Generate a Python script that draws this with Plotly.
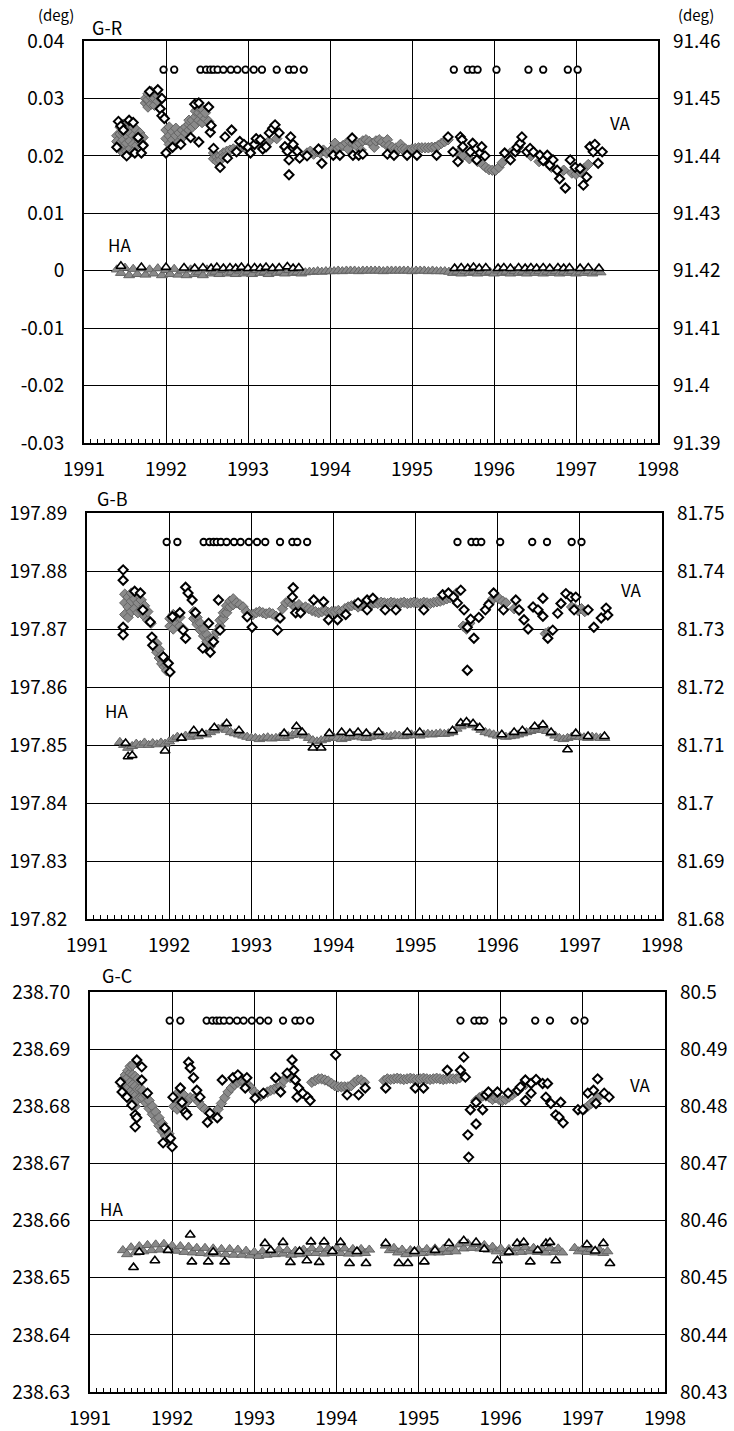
import plotly.graph_objects as go

# ---------------------------------------------------------------- data ----
# Event dates (open circles along the top of every panel)
EVENT_DATES = [1991.97, 1992.10, 1992.42, 1992.49, 1992.54, 1992.58, 1992.63, 1992.70,
               1992.79, 1992.87, 1992.97, 1993.07, 1993.17, 1993.35, 1993.50, 1993.56,
               1993.68, 1995.51, 1995.68, 1995.74, 1995.80, 1996.03, 1996.42, 1996.60,
               1996.90, 1997.02]
EVENT_LEVEL = {"G-R": 91.455, "G-B": 81.745, "G-C": 80.495}

# Sampling dates of the dense HA record (gray triangles)
HA_DATES = [1991.40, 1991.45, 1991.50, 1991.55, 1991.60, 1991.65, 1991.70, 1991.75, 1991.80, 1991.85, 1991.90, 1991.95,
            1992.00, 1992.05, 1992.10, 1992.15, 1992.20, 1992.25, 1992.30, 1992.35, 1992.40, 1992.45,
            1992.50, 1992.55, 1992.60, 1992.65, 1992.70, 1992.75, 1992.80, 1992.85, 1992.90, 1992.95,
            1993.00, 1993.05, 1993.10, 1993.15, 1993.20, 1993.25, 1993.30, 1993.35, 1993.40, 1993.45,
            1993.50, 1993.55, 1993.60, 1993.65, 1993.70, 1993.75, 1993.80, 1993.85, 1993.90, 1993.95,
            1994.00, 1994.05, 1994.10, 1994.15, 1994.20, 1994.25, 1994.30, 1994.35, 1994.40, 1994.45,
            1994.50, 1994.55, 1994.60, 1994.65, 1994.70, 1994.75, 1994.80, 1994.85, 1994.90, 1994.95,
            1995.00, 1995.05, 1995.10, 1995.15, 1995.20, 1995.25, 1995.30, 1995.35, 1995.40, 1995.45,
            1995.50, 1995.55, 1995.60, 1995.65, 1995.70, 1995.75, 1995.80, 1995.85, 1995.90, 1995.95,
            1996.00, 1996.05, 1996.10, 1996.15, 1996.20, 1996.25, 1996.30, 1996.35, 1996.40, 1996.45,
            1996.50, 1996.55, 1996.60, 1996.65, 1996.70, 1996.75, 1996.80, 1996.85, 1996.90, 1996.95,
            1997.00, 1997.05, 1997.10, 1997.15, 1997.20, 1997.25, 1997.30]

# ---- G-R ----
GR_HA_GRAY = [0.0002, -0.0004, 0.0005, -0.0008, 0.0003, -0.0006, 0.0004, -0.0007, 0.0002, -0.0005, 0.0004, -0.0008,
              0.0001, -0.0006, 0.0003, -0.0007, 0.0000, -0.0008, 0.0002,
              -0.0006, -0.0003, -0.0008, 0.0002, -0.0005, -0.0002, -0.0006, 0.0001, -0.0005, -0.0003, -0.0006,
              0.0000, -0.0005, -0.0002, -0.0006, 0.0001, -0.0004, -0.0002, -0.0006, 0.0000, -0.0004, -0.0002,
              -0.0005, 0.0001, -0.0004, -0.0003, -0.0005,
              -0.0003, -0.0002, -0.0002, -0.0001, -0.0002, -0.0001, -0.0001, -0.0001, 0.0000, -0.0001, 0.0000,
              0.0000, 0.0000, -0.0001, 0.0000, 0.0000, 0.0000, 0.0000, 0.0000, -0.0001, 0.0000, 0.0000, 0.0000,
              0.0000, 0.0000, 0.0000, -0.0001, 0.0000, 0.0000, 0.0000, -0.0001, 0.0000, -0.0001, -0.0001, -0.0001,
              -0.0002,
              -0.0004, -0.0002, -0.0005, -0.0001, -0.0004, -0.0002, -0.0005, -0.0001, -0.0004, -0.0002, -0.0005,
              0.0000, -0.0004, -0.0002, -0.0005, -0.0001, -0.0004, -0.0002, -0.0005, 0.0000, -0.0004, -0.0001,
              -0.0005, -0.0002, -0.0004, -0.0001, -0.0005, -0.0002, -0.0004, -0.0001, -0.0005, -0.0003, -0.0004,
              -0.0001, -0.0005, -0.0002, -0.0003]
GR_HA_OPEN = {1991.45: [0.0008], 1991.70: [0.0006], 1992.00: [0.0006], 1992.22: [0.0005], 1992.35: [0.0004],
              1992.45: [0.0005], 1992.55: [0.0004], 1992.62: [0.0006], 1992.70: [0.0004], 1992.78: [0.0005],
              1992.85: [0.0004], 1992.92: [0.0006], 1993.00: [0.0004], 1993.08: [0.0005], 1993.15: [0.0004],
              1993.22: [0.0006], 1993.30: [0.0004], 1993.38: [0.0005], 1993.48: [0.0007], 1993.55: [0.0004],
              1993.62: [0.0005], 1995.52: [0.0004], 1995.60: [0.0005], 1995.68: [0.0004], 1995.75: [0.0006],
              1995.82: [0.0004], 1995.90: [0.0005], 1996.05: [0.0004], 1996.12: [0.0005], 1996.20: [0.0004],
              1996.30: [0.0005], 1996.38: [0.0004], 1996.45: [0.0005], 1996.52: [0.0004], 1996.60: [0.0005],
              1996.68: [0.0004], 1996.78: [0.0005], 1996.85: [0.0004], 1996.92: [0.0005], 1997.05: [0.0004],
              1997.15: [0.0005], 1997.28: [0.0004]}
GR_VA_GRAY = {
    1991.40: [91.4435, 91.4425], 1991.44: [91.4450, 91.4438, 91.4422, 91.4412],
    1991.48: [91.4455, 91.4440, 91.4428, 91.4415, 91.4405], 1991.52: [91.4452, 91.4436, 91.4422, 91.4408],
    1991.56: [91.4455, 91.4440, 91.4426, 91.4412], 1991.60: [91.4450, 91.4435, 91.4420, 91.4407],
    1991.64: [91.4445, 91.4432, 91.4418], 1991.68: [91.4440, 91.4425], 1991.72: [91.4432, 91.4420],
    1991.75: [91.4492, 91.4500], 1991.78: [91.4485, 91.4498, 91.4508], 1991.82: [91.4490, 91.4502, 91.4512],
    1991.86: [91.4488, 91.4500, 91.4510], 1991.90: [91.4495, 91.4505], 1991.94: [91.4500],
    1992.00: [91.4430, 91.4445], 1992.04: [91.4420, 91.4435, 91.4450], 1992.08: [91.4415, 91.4428, 91.4442],
    1992.12: [91.4420, 91.4435, 91.4448], 1992.16: [91.4425, 91.4440], 1992.20: [91.4432, 91.4445],
    1992.24: [91.4440, 91.4450], 1992.28: [91.4445, 91.4455, 91.4462], 1992.32: [91.4450, 91.4462],
    1992.36: [91.4455, 91.4468, 91.4478], 1992.40: [91.4462, 91.4475, 91.4485],
    1992.44: [91.4458, 91.4470, 91.4482], 1992.48: [91.4465, 91.4475], 1992.52: [91.4460],
    1992.58: [91.4405, 91.4395], 1992.62: [91.4398, 91.4390], 1992.66: [91.4400, 91.4392],
    1992.70: [91.4405, 91.4398], 1992.74: [91.4408, 91.4400], 1992.78: [91.4410], 1992.82: [91.4412],
    1992.86: [91.4410], 1992.92: [91.4415], 1992.98: [91.4412], 1993.05: [91.4415], 1993.15: [91.4418],
    1993.25: [91.4425], 1993.35: [91.4430], 1993.45: [91.4415],
    1993.72: [91.4405], 1993.76: [91.4408], 1993.80: [91.4403], 1993.84: [91.4407], 1993.88: [91.4405],
    1993.92: [91.4410], 1993.96: [91.4405], 1994.00: [91.4408], 1994.04: [91.4412], 1994.06: [91.4422],
    1994.08: [91.4410], 1994.12: [91.4415], 1994.16: [91.4418], 1994.20: [91.4422], 1994.22: [91.4412],
    1994.24: [91.4425], 1994.28: [91.4422], 1994.32: [91.4418], 1994.36: [91.4422], 1994.38: [91.4410],
    1994.40: [91.4426], 1994.44: [91.4428], 1994.48: [91.4425], 1994.52: [91.4422], 1994.54: [91.4415],
    1994.56: [91.4426], 1994.60: [91.4428], 1994.64: [91.4424], 1994.68: [91.4420], 1994.70: [91.4428],
    1994.72: [91.4418], 1994.76: [91.4415], 1994.80: [91.4413], 1994.84: [91.4412], 1994.86: [91.4420],
    1994.88: [91.4412], 1994.92: [91.4412], 1994.96: [91.4410], 1995.00: [91.4412], 1995.04: [91.4413],
    1995.08: [91.4414], 1995.12: [91.4414], 1995.16: [91.4414], 1995.20: [91.4414], 1995.24: [91.4415],
    1995.28: [91.4415], 1995.32: [91.4418], 1995.36: [91.4422], 1995.40: [91.4425], 1995.44: [91.4428],
    1995.56: [91.4405], 1995.62: [91.4400], 1995.70: [91.4395], 1995.80: [91.4390], 1995.86: [91.4385],
    1995.90: [91.4380], 1995.94: [91.4376], 1995.98: [91.4375], 1996.02: [91.4375], 1996.06: [91.4380],
    1996.10: [91.4388], 1996.20: [91.4405], 1996.30: [91.4415], 1996.45: [91.4400], 1996.55: [91.4390],
    1996.70: [91.4380], 1996.85: [91.4375], 1996.95: [91.4370], 1997.00: [91.4368], 1997.05: [91.4372],
    1997.10: [91.4378], 1997.15: [91.4385]}
GR_VA_OPEN = {
    1991.40: [91.4415], 1991.42: [91.4460], 1991.45: [91.4452], 1991.48: [91.4445], 1991.52: [91.4400],
    1991.55: [91.4462], 1991.60: [91.4458], 1991.62: [91.4405], 1991.66: [91.4432], 1991.70: [91.4405],
    1991.72: [91.4418], 1991.80: [91.4512], 1991.90: [91.4515], 1991.93: [91.4482], 1991.95: [91.4500, 91.4470],
    1991.98: [91.4465], 1992.00: [91.4405], 1992.08: [91.4415], 1992.18: [91.4420], 1992.30: [91.4432],
    1992.35: [91.4490], 1992.40: [91.4492, 91.4424], 1992.52: [91.4485], 1992.54: [91.4441], 1992.55: [91.4453],
    1992.58: [91.4413], 1992.66: [91.4380], 1992.72: [91.4433], 1992.75: [91.4396], 1992.80: [91.4445],
    1992.86: [91.4407], 1992.90: [91.4425], 1992.95: [91.4420], 1993.00: [91.4415], 1993.03: [91.4405],
    1993.08: [91.4420], 1993.10: [91.4430], 1993.15: [91.4428], 1993.18: [91.4412], 1993.22: [91.4416],
    1993.26: [91.4440], 1993.30: [91.4448], 1993.33: [91.4454], 1993.38: [91.4440], 1993.45: [91.4416],
    1993.48: [91.4408], 1993.50: [91.4393, 91.4367], 1993.52: [91.4433], 1993.55: [91.4420], 1993.60: [91.4408],
    1993.63: [91.4396], 1993.72: [91.4400], 1993.86: [91.4412], 1993.90: [91.4387],
    1994.04: [91.4401], 1994.12: [91.4401], 1994.27: [91.4431], 1994.28: [91.4401], 1994.35: [91.4401],
    1994.40: [91.4403], 1994.70: [91.4403], 1994.78: [91.4401], 1994.94: [91.4401], 1995.06: [91.4401],
    1995.30: [91.4401], 1995.44: [91.4433], 1995.50: [91.4407], 1995.56: [91.4390], 1995.59: [91.4433],
    1995.61: [91.4428], 1995.62: [91.4416], 1995.71: [91.4407], 1995.74: [91.4422], 1995.79: [91.4393],
    1995.83: [91.4405], 1995.85: [91.4416], 1995.89: [91.4400], 1996.13: [91.4405], 1996.20: [91.4393],
    1996.26: [91.4407], 1996.28: [91.4415], 1996.32: [91.4422], 1996.34: [91.4433], 1996.40: [91.4407],
    1996.44: [91.4413], 1996.48: [91.4407], 1996.56: [91.4401], 1996.60: [91.4392], 1996.65: [91.4401],
    1996.68: [91.4384], 1996.72: [91.4393], 1996.77: [91.4375], 1996.80: [91.4360], 1996.87: [91.4344],
    1996.93: [91.4393], 1996.99: [91.4380], 1997.05: [91.4378], 1997.09: [91.4349], 1997.13: [91.4363],
    1997.17: [91.4416], 1997.21: [91.4407], 1997.23: [91.4420], 1997.27: [91.4387], 1997.32: [91.4407]}

# ---- G-B ----
GB_HA_GRAY = [197.8505, 197.8500, 197.8495, 197.8498, 197.8502, 197.8500, 197.8504, 197.8500, 197.8503, 197.8501,
              197.8504, 197.8502, 197.8506,
              197.8510, 197.8514, 197.8512, 197.8516, 197.8514, 197.8518, 197.8515, 197.8520, 197.8518, 197.8522,
              197.8525, 197.8528, 197.8530, 197.8526, 197.8522, 197.8520, 197.8518, 197.8516, 197.8514, 197.8512,
              197.8512, 197.8510, 197.8512, 197.8513, 197.8511, 197.8512, 197.8514, 197.8512, 197.8515, 197.8517,
              197.8520, 197.8518, 197.8516, 197.8512, 197.8508, 197.8506, 197.8508, 197.8510, 197.8512, 197.8514,
              197.8512, 197.8510, 197.8512, 197.8514, 197.8516, 197.8515, 197.8513, 197.8512, 197.8514, 197.8516,
              197.8515, 197.8516, 197.8514, 197.8515, 197.8517, 197.8516, 197.8515, 197.8516, 197.8518, 197.8517,
              197.8516, 197.8518, 197.8519, 197.8518, 197.8519, 197.8520, 197.8519, 197.8520, 197.8522,
              197.8528, 197.8532, 197.8535, 197.8536, 197.8534, 197.8530, 197.8526, 197.8522, 197.8520, 197.8518,
              197.8516,
              197.8515, 197.8514, 197.8515, 197.8516, 197.8518, 197.8520, 197.8522, 197.8524, 197.8526, 197.8528,
              197.8526, 197.8524, 197.8520, 197.8516, 197.8512, 197.8510, 197.8512, 197.8514, 197.8515, 197.8514,
              197.8513, 197.8512, 197.8514, 197.8513, 197.8512, 197.8512]
GB_HA_OPEN = {1991.47: [197.8503], 1991.50: [197.8480], 1991.55: [197.8482], 1991.95: [197.8490],
              1992.15: [197.8512], 1992.30: [197.8525], 1992.40: [197.8520], 1992.55: [197.8530],
              1992.70: [197.8537], 1992.85: [197.8525], 1993.40: [197.8520], 1993.55: [197.8532],
              1993.62: [197.8522], 1993.75: [197.8495], 1993.85: [197.8495], 1993.95: [197.8520],
              1994.10: [197.8522], 1994.20: [197.8520], 1994.30: [197.8522], 1994.40: [197.8520],
              1994.55: [197.8522], 1994.90: [197.8522], 1995.05: [197.8522], 1995.45: [197.8525],
              1995.55: [197.8538], 1995.62: [197.8540], 1995.70: [197.8537], 1995.78: [197.8530],
              1996.05: [197.8518], 1996.20: [197.8522], 1996.30: [197.8525], 1996.45: [197.8532],
              1996.55: [197.8535], 1996.65: [197.8522], 1996.85: [197.8492], 1996.95: [197.8520],
              1997.10: [197.8515], 1997.30: [197.8515]}
GB_VA_GRAY = {
    1991.46: [81.7325, 81.7345, 81.7360], 1991.50: [81.7320, 81.7338, 81.7355], 1991.54: [81.7330, 81.7348, 81.7362],
    1991.58: [81.7335, 81.7352], 1991.62: [81.7328, 81.7345, 81.7360], 1991.66: [81.7332, 81.7350],
    1991.70: [81.7322, 81.7340], 1991.74: [81.7315, 81.7330], 1991.78: [81.7310],
    1991.85: [81.7275, 81.7260], 1991.88: [81.7265, 81.7250], 1991.91: [81.7255, 81.7240],
    1991.94: [81.7248, 81.7235], 1991.97: [81.7238, 81.7228],
    1992.01: [81.7305, 81.7318], 1992.05: [81.7300, 81.7315, 81.7325], 1992.09: [81.7310, 81.7322],
    1992.13: [81.7305, 81.7320], 1992.17: [81.7300],
    1992.30: [81.7330, 81.7318], 1992.34: [81.7320, 81.7308], 1992.38: [81.7310, 81.7298],
    1992.42: [81.7300, 81.7288], 1992.46: [81.7290, 81.7278], 1992.50: [81.7282, 81.7270], 1992.54: [81.7285],
    1992.58: [81.7295], 1992.62: [81.7305, 81.7315], 1992.66: [81.7318, 81.7328], 1992.70: [81.7328, 81.7340],
    1992.74: [81.7338, 81.7348], 1992.78: [81.7342, 81.7352], 1992.82: [81.7345], 1992.86: [81.7342],
    1992.90: [81.7338], 1992.94: [81.7330], 1992.98: [81.7325],
    1993.02: [81.7325], 1993.06: [81.7328], 1993.10: [81.7330], 1993.14: [81.7328], 1993.18: [81.7326],
    1993.22: [81.7328], 1993.26: [81.7326], 1993.30: [81.7322],
    1993.38: [81.7335], 1993.42: [81.7345], 1993.46: [81.7348], 1993.50: [81.7342], 1993.54: [81.7338],
    1993.58: [81.7342], 1993.62: [81.7335], 1993.66: [81.7338], 1993.70: [81.7335],
    1993.74: [81.7332], 1993.78: [81.7330], 1993.82: [81.7328], 1993.86: [81.7330], 1993.90: [81.7332],
    1993.94: [81.7328], 1993.98: [81.7330], 1994.02: [81.7330], 1994.06: [81.7332], 1994.10: [81.7330],
    1994.14: [81.7335], 1994.18: [81.7338], 1994.22: [81.7340], 1994.26: [81.7342], 1994.30: [81.7338],
    1994.34: [81.7340], 1994.38: [81.7342], 1994.42: [81.7345], 1994.46: [81.7342],
    1994.50: [81.7345], 1994.54: [81.7344], 1994.58: [81.7346], 1994.62: [81.7345], 1994.66: [81.7344],
    1994.70: [81.7346], 1994.74: [81.7345], 1994.78: [81.7344], 1994.82: [81.7345], 1994.86: [81.7346],
    1994.90: [81.7344], 1994.94: [81.7345], 1994.98: [81.7346], 1995.02: [81.7345], 1995.06: [81.7344],
    1995.10: [81.7346], 1995.14: [81.7345], 1995.18: [81.7344], 1995.22: [81.7346], 1995.26: [81.7347],
    1995.30: [81.7348], 1995.34: [81.7350], 1995.38: [81.7352], 1995.42: [81.7354], 1995.46: [81.7355],
    1995.50: [81.7362], 1995.58: [81.7305], 1995.62: [81.7300], 1995.66: [81.7310],
    1995.90: [81.7345], 1995.94: [81.7352], 1995.98: [81.7355], 1996.02: [81.7352], 1996.06: [81.7348],
    1996.10: [81.7345], 1996.20: [81.7335], 1996.26: [81.7332], 1996.58: [81.7292], 1996.62: [81.7295],
    1996.90: [81.7338], 1996.94: [81.7335], 1996.98: [81.7332], 1997.02: [81.7335], 1997.06: [81.7330]}
GB_VA_OPEN = {
    1991.44: [81.7402, 81.7384, 81.7303, 81.7290], 1991.58: [81.7365], 1991.65: [81.7362], 1991.68: [81.7333],
    1991.77: [81.7312], 1991.79: [81.7286], 1991.80: [81.7272], 1991.93: [81.7252], 1991.99: [81.7241],
    1992.01: [81.7226], 1992.04: [81.7321], 1992.13: [81.7328], 1992.17: [81.7298], 1992.20: [81.7284, 81.7372],
    1992.23: [81.7362], 1992.28: [81.7350], 1992.32: [81.7328], 1992.41: [81.7267], 1992.48: [81.7310],
    1992.50: [81.7260], 1992.54: [81.7278], 1992.60: [81.7350], 1992.62: [81.7298], 1992.95: [81.7321],
    1993.01: [81.7303], 1993.32: [81.7298], 1993.35: [81.7319], 1993.50: [81.7355], 1993.51: [81.7371],
    1993.54: [81.7328], 1993.60: [81.7328], 1993.76: [81.7350], 1993.88: [81.7347], 1993.94: [81.7316],
    1994.05: [81.7316], 1994.15: [81.7325], 1994.30: [81.7345], 1994.41: [81.7350, 81.7333], 1994.48: [81.7353],
    1994.63: [81.7333], 1994.76: [81.7333], 1995.10: [81.7333], 1995.33: [81.7359], 1995.40: [81.7362],
    1995.46: [81.7355], 1995.51: [81.7345], 1995.55: [81.7367], 1995.59: [81.7333], 1995.63: [81.7303, 81.7229],
    1995.67: [81.7317], 1995.71: [81.7284], 1995.77: [81.7320], 1995.85: [81.7333], 1995.89: [81.7342],
    1995.95: [81.7362], 1996.07: [81.7333], 1996.22: [81.7350], 1996.26: [81.7333], 1996.32: [81.7316],
    1996.37: [81.7300], 1996.43: [81.7338], 1996.49: [81.7333], 1996.55: [81.7353, 81.7322], 1996.61: [81.7284],
    1996.67: [81.7298], 1996.73: [81.7327], 1996.77: [81.7344], 1996.83: [81.7361], 1996.89: [81.7355],
    1996.93: [81.7333], 1996.95: [81.7355], 1997.10: [81.7333], 1997.17: [81.7303], 1997.26: [81.7319],
    1997.32: [81.7336], 1997.34: [81.7324]}

# ---- G-C ----
GC_HA_GRAY = [238.6548, 238.6541, 238.6553, 238.6544, 238.6555, 238.6546, 238.6557, 238.6548, 238.6558, 238.6549,
              238.6559, 238.6550,
              238.6556, 238.6547, 238.6555, 238.6545, 238.6554, 238.6544, 238.6552, 238.6543, 238.6552, 238.6542,
              238.6551, 238.6542, 238.6550, 238.6541, 238.6550, 238.6540, 238.6549, 238.6540, 238.6547, 238.6539,
              238.6545, 238.6538, 238.6546, 238.6540, 238.6548, 238.6541, 238.6549, 238.6542, 238.6548, 238.6540,
              238.6547, 238.6541, 238.6549, 238.6543, 238.6551, 238.6543, 238.6550, 238.6542, 238.6551, 238.6543,
              238.6552, 238.6543, 238.6551, 238.6542, 238.6550, 238.6542, 238.6550, 238.6543, 238.6549, None,
              None, None, 238.6556, 238.6548, 238.6552, 238.6544, 238.6549, 238.6541, 238.6548, 238.6542,
              238.6549, 238.6543, 238.6550, 238.6544, 238.6551, 238.6544, 238.6550, 238.6545, 238.6551, 238.6546,
              238.6558, 238.6551, 238.6560, 238.6552, 238.6559, 238.6551, 238.6557, 238.6549, 238.6554, 238.6546,
              238.6551, 238.6543, 238.6550, 238.6544, 238.6552, 238.6545, 238.6553, 238.6546, 238.6552, 238.6545,
              238.6551, 238.6544, 238.6552, 238.6545, 238.6551, 238.6544, None, None, 238.6552, 238.6546,
              238.6551, 238.6545, 238.6550, 238.6544, 238.6549, 238.6543, 238.6546]
GC_HA_OPEN = {1991.53: [238.6518], 1991.60: [238.6545], 1991.79: [238.6530], 1991.95: [238.6548],
              1992.22: [238.6575], 1992.24: [238.6528], 1992.44: [238.6528], 1992.50: [238.6545],
              1992.64: [238.6528], 1993.13: [238.6560], 1993.20: [238.6548], 1993.35: [238.6562],
              1993.44: [238.6527], 1993.55: [238.6546], 1993.64: [238.6530], 1993.69: [238.6563],
              1993.79: [238.6527], 1993.85: [238.6563], 1993.95: [238.6546], 1994.05: [238.6562],
              1994.16: [238.6525], 1994.25: [238.6546], 1994.36: [238.6525], 1994.60: [238.6560],
              1994.76: [238.6525], 1994.87: [238.6525], 1994.95: [238.6546], 1995.07: [238.6528],
              1995.20: [238.6548], 1995.37: [238.6560], 1995.55: [238.6565], 1995.70: [238.6562],
              1995.80: [238.6550], 1995.96: [238.6530], 1996.10: [238.6545], 1996.20: [238.6560],
              1996.28: [238.6562], 1996.36: [238.6528], 1996.45: [238.6548], 1996.55: [238.6560],
              1996.60: [238.6562], 1996.67: [238.6530], 1997.05: [238.6558], 1997.15: [238.6547],
              1997.25: [238.6560], 1997.33: [238.6525]}
GC_VA_GRAY = {
    1991.40: [80.4835, 80.4845], 1991.43: [80.4825, 80.4840, 80.4855],
    1991.46: [80.4815, 80.4832, 80.4850, 80.4862], 1991.49: [80.4810, 80.4825, 80.4842, 80.4858, 80.4870],
    1991.52: [80.4805, 80.4820, 80.4838, 80.4855, 80.4872], 1991.55: [80.4800, 80.4818, 80.4835, 80.4852],
    1991.58: [80.4812, 80.4830, 80.4848], 1991.61: [80.4815, 80.4830], 1991.64: [80.4828, 80.4815],
    1991.68: [80.4820, 80.4806], 1991.72: [80.4810, 80.4796], 1991.76: [80.4800, 80.4786],
    1991.80: [80.4790, 80.4776], 1991.84: [80.4780, 80.4766], 1991.88: [80.4770, 80.4756],
    1991.92: [80.4760, 80.4748], 1991.96: [80.4752, 80.4740],
    1992.02: [80.4800, 80.4815], 1992.06: [80.4795, 80.4812, 80.4822], 1992.10: [80.4800, 80.4818],
    1992.14: [80.4805, 80.4820], 1992.18: [80.4808], 1992.22: [80.4815],
    1992.28: [80.4815], 1992.32: [80.4808], 1992.36: [80.4800], 1992.40: [80.4795], 1992.44: [80.4790],
    1992.48: [80.4785], 1992.52: [80.4788], 1992.56: [80.4795], 1992.60: [80.4805], 1992.64: [80.4815],
    1992.68: [80.4825], 1992.72: [80.4832], 1992.76: [80.4838], 1992.80: [80.4842], 1992.84: [80.4845],
    1992.88: [80.4843], 1992.92: [80.4838], 1992.96: [80.4832], 1993.00: [80.4825],
    1993.04: [80.4820], 1993.08: [80.4818], 1993.12: [80.4822], 1993.16: [80.4825], 1993.20: [80.4828],
    1993.24: [80.4830], 1993.28: [80.4832], 1993.32: [80.4835], 1993.36: [80.4845], 1993.40: [80.4852],
    1993.44: [80.4850],
    1993.70: [80.4842], 1993.74: [80.4845], 1993.78: [80.4848], 1993.82: [80.4848], 1993.86: [80.4846],
    1993.90: [80.4844], 1993.94: [80.4840], 1993.98: [80.4836], 1994.02: [80.4834], 1994.06: [80.4834],
    1994.10: [80.4834], 1994.14: [80.4834], 1994.18: [80.4836], 1994.22: [80.4842], 1994.26: [80.4846],
    1994.30: [80.4846], 1994.34: [80.4842],
    1994.58: [80.4845], 1994.62: [80.4848], 1994.66: [80.4847], 1994.70: [80.4848], 1994.74: [80.4849],
    1994.78: [80.4848], 1994.82: [80.4847], 1994.86: [80.4848], 1994.90: [80.4849], 1994.94: [80.4848],
    1994.98: [80.4847], 1995.02: [80.4848], 1995.06: [80.4849], 1995.10: [80.4848], 1995.14: [80.4847],
    1995.18: [80.4848], 1995.22: [80.4849], 1995.26: [80.4848], 1995.30: [80.4847], 1995.34: [80.4848],
    1995.38: [80.4849], 1995.42: [80.4848], 1995.46: [80.4848], 1995.50: [80.4850],
    1995.70: [80.4810], 1995.74: [80.4815], 1995.78: [80.4818], 1995.82: [80.4818], 1995.86: [80.4816],
    1995.90: [80.4812], 1995.94: [80.4815], 1995.98: [80.4812], 1996.02: [80.4810], 1996.06: [80.4812],
    1996.10: [80.4816], 1996.14: [80.4820], 1996.18: [80.4825], 1996.22: [80.4830], 1996.26: [80.4835],
    1996.30: [80.4838],
    1997.02: [80.4795], 1997.06: [80.4800], 1997.10: [80.4805], 1997.14: [80.4810], 1997.18: [80.4815]}
GC_VA_OPEN = {
    1991.37: [80.4842], 1991.39: [80.4825], 1991.45: [80.4816], 1991.51: [80.4802], 1991.55: [80.4785, 80.4764],
    1991.57: [80.4780, 80.4881], 1991.63: [80.4869, 80.4846], 1991.70: [80.4823], 1991.89: [80.4736],
    1991.91: [80.4762], 1991.98: [80.4744], 1992.00: [80.4729], 1992.01: [80.4816], 1992.10: [80.4832],
    1992.12: [80.4807], 1992.16: [80.4790], 1992.18: [80.4785], 1992.20: [80.4877], 1992.22: [80.4867],
    1992.26: [80.4850], 1992.30: [80.4828], 1992.34: [80.4816], 1992.43: [80.4772], 1992.46: [80.4788],
    1992.55: [80.4780], 1992.61: [80.4846], 1992.74: [80.4850], 1992.80: [80.4855], 1992.89: [80.4832],
    1992.91: [80.4850], 1993.01: [80.4814], 1993.11: [80.4823], 1993.26: [80.4850], 1993.32: [80.4825],
    1993.40: [80.4858], 1993.46: [80.4881], 1993.48: [80.4863], 1993.50: [80.4846], 1993.52: [80.4816],
    1993.54: [80.4832], 1993.59: [80.4823], 1993.65: [80.4816], 1993.68: [80.4810], 1993.99: [80.4890],
    1994.13: [80.4820], 1994.27: [80.4820], 1994.35: [80.4832], 1994.60: [80.4832], 1994.96: [80.4832],
    1995.06: [80.4832], 1995.35: [80.4863], 1995.51: [80.4863], 1995.55: [80.4886], 1995.57: [80.4851],
    1995.60: [80.4750], 1995.61: [80.4711], 1995.63: [80.4794], 1995.70: [80.4769, 80.4807], 1995.78: [80.4794],
    1995.82: [80.4820], 1995.85: [80.4825], 1995.96: [80.4825], 1996.09: [80.4823], 1996.21: [80.4828],
    1996.24: [80.4834], 1996.30: [80.4846, 80.4810], 1996.37: [80.4840, 80.4823], 1996.43: [80.4847],
    1996.51: [80.4840], 1996.55: [80.4816], 1996.57: [80.4840], 1996.61: [80.4805], 1996.67: [80.4785],
    1996.71: [80.4781], 1996.73: [80.4807], 1996.76: [80.4771], 1996.94: [80.4794], 1997.00: [80.4794],
    1997.06: [80.4823], 1997.13: [80.4828], 1997.16: [80.4805], 1997.18: [80.4848], 1997.26: [80.4823],
    1997.32: [80.4816]}

# ---- axis ticks ----
GR_LEFT_TICKS = [-0.03, -0.02, -0.01, 0, 0.01, 0.02, 0.03, 0.04]
GR_LEFT_LABELS = ["-0.03", "-0.02", "-0.01", "0", "0.01", "0.02", "0.03", "0.04"]
GR_RIGHT_TICKS = [91.39, 91.40, 91.41, 91.42, 91.43, 91.44, 91.45, 91.46]
GR_RIGHT_LABELS = ["91.39", "91.4", "91.41", "91.42", "91.43", "91.44", "91.45", "91.46"]
GB_LEFT_TICKS = [197.82, 197.83, 197.84, 197.85, 197.86, 197.87, 197.88, 197.89]
GB_LEFT_LABELS = ["197.82", "197.83", "197.84", "197.85", "197.86", "197.87", "197.88", "197.89"]
GB_RIGHT_TICKS = [81.68, 81.69, 81.70, 81.71, 81.72, 81.73, 81.74, 81.75]
GB_RIGHT_LABELS = ["81.68", "81.69", "81.7", "81.71", "81.72", "81.73", "81.74", "81.75"]
GC_LEFT_TICKS = [238.63, 238.64, 238.65, 238.66, 238.67, 238.68, 238.69, 238.70]
GC_LEFT_LABELS = ["238.63", "238.64", "238.65", "238.66", "238.67", "238.68", "238.69", "238.70"]
GC_RIGHT_TICKS = [80.43, 80.44, 80.45, 80.46, 80.47, 80.48, 80.49, 80.50]
GC_RIGHT_LABELS = ["80.43", "80.44", "80.45", "80.46", "80.47", "80.48", "80.49", "80.5"]
YEARS = [1991, 1992, 1993, 1994, 1995, 1996, 1997, 1998]

assert len(HA_DATES) == len(GR_HA_GRAY) == len(GB_HA_GRAY) == len(GC_HA_GRAY)

# -------------------------------------------------------------- layout ----
W, H = 734, 1431
FONT = "Noto Sans CJK JP, DejaVu Sans, sans-serif"
GRAY = "#8a8a8a"
GRAY_EDGE = "#646464"

# plot-area boxes in pixels: (left, right, top, bottom)
BOXES = [(84, 658, 41, 443), (87, 662, 513, 919), (90, 665, 992, 1392)]

PANELS = [
    dict(name="G-R", box=BOXES[0], ha_gray=GR_HA_GRAY, ha_open=GR_HA_OPEN, va_gray=GR_VA_GRAY, va_open=GR_VA_OPEN,
         lt=GR_LEFT_TICKS, ll=GR_LEFT_LABELS, rt=GR_RIGHT_TICKS, rl=GR_RIGHT_LABELS,
         va_lab=(620, 122), ha_lab=(119, 244), name_xy=(90, 27)),
    dict(name="G-B", box=BOXES[1], ha_gray=GB_HA_GRAY, ha_open=GB_HA_OPEN, va_gray=GB_VA_GRAY, va_open=GB_VA_OPEN,
         lt=GB_LEFT_TICKS, ll=GB_LEFT_LABELS, rt=GB_RIGHT_TICKS, rl=GB_RIGHT_LABELS,
         va_lab=(631, 590), ha_lab=(116, 710), name_xy=(95, 498)),
    dict(name="G-C", box=BOXES[2], ha_gray=GC_HA_GRAY, ha_open=GC_HA_OPEN, va_gray=GC_VA_GRAY, va_open=GC_VA_OPEN,
         lt=GC_LEFT_TICKS, ll=GC_LEFT_LABELS, rt=GC_RIGHT_TICKS, rl=GC_RIGHT_LABELS,
         va_lab=(640, 1084), ha_lab=(111, 1208), name_xy=(100, 975)),
]


def expand(d):
    xs, ys = [], []
    for k, vals in d.items():
        for v in vals:
            xs.append(k)
            ys.append(v)
    return xs, ys


def px(x):
    return x / W


def py(y):
    return 1 - y / H


fig = go.Figure()
layout = dict(template="none", width=W, height=H, margin=dict(l=0, r=0, t=0, b=0, pad=0), showlegend=False,
              paper_bgcolor="white", plot_bgcolor="white", font=dict(family=FONT, color="black"))
annotations = []

for i, p in enumerate(PANELS):
    n = i + 1
    xa = "x" if n == 1 else f"x{n}"
    yl_i, yr_i = 2 * i + 1, 2 * i + 2
    yl = "y" if yl_i == 1 else f"y{yl_i}"
    yr = f"y{yr_i}"
    l, r, t, b = p["box"]

    layout["xaxis" if n == 1 else f"xaxis{n}"] = dict(
        domain=[px(l), px(r)], anchor=yl, range=[1991, 1998], tickmode="array", tickvals=YEARS,
        ticktext=[str(v) for v in YEARS], showgrid=True, gridcolor="black", gridwidth=1,
        showline=True, linecolor="black", linewidth=2, mirror=True, ticks="inside", ticklen=5,
        tickcolor="black", tickwidth=1, zeroline=False, automargin=False,
        minor=dict(dtick=1 / 12, tick0=1991, ticks="inside", ticklen=4, tickcolor="black", tickwidth=1,
                   showgrid=False),
        tickfont=dict(size=19, family=FONT, color="black"), ticklabelstandoff=8)
    layout["yaxis" if yl_i == 1 else f"yaxis{yl_i}"] = dict(
        domain=[py(b), py(t)], anchor=xa, range=[p["lt"][0], p["lt"][-1]], tickmode="array",
        tickvals=p["lt"], ticktext=p["ll"], showgrid=True, gridcolor="black", gridwidth=1,
        showline=True, linecolor="black", linewidth=2, mirror=True, ticks="", zeroline=False,
        automargin=False, tickfont=dict(size=19, family=FONT, color="black"), ticklabelstandoff=14)
    layout[f"yaxis{yr_i}"] = dict(
        overlaying=yl, side="right", anchor=xa, range=[p["rt"][0], p["rt"][-1]], tickmode="array",
        tickvals=p["rt"], ticktext=p["rl"], showgrid=False, showline=False, ticks="", zeroline=False,
        automargin=False, tickfont=dict(size=19, family=FONT, color="black"), ticklabelstandoff=14)

    # HA (left axis)
    fig.add_trace(go.Scatter(x=HA_DATES, y=p["ha_gray"], mode="markers", xaxis=xa, yaxis=yl,
                             marker=dict(symbol="triangle-up", size=9.5, color=GRAY,
                                         line=dict(color=GRAY_EDGE, width=1))))
    hx, hy = expand(p["ha_open"])
    fig.add_trace(go.Scatter(x=hx, y=hy, mode="markers", xaxis=xa, yaxis=yl,
                             marker=dict(symbol="triangle-up", size=8.5, color="white",
                                         line=dict(color="black", width=1.6))))
    # VA (right axis)
    gx, gy = expand(p["va_gray"])
    fig.add_trace(go.Scatter(x=gx, y=gy, mode="markers", xaxis=xa, yaxis=yr,
                             marker=dict(symbol="diamond", size=8, color=GRAY,
                                         line=dict(color=GRAY_EDGE, width=1))))
    ox, oy = expand(p["va_open"])
    fig.add_trace(go.Scatter(x=ox, y=oy, mode="markers", xaxis=xa, yaxis=yr,
                             marker=dict(symbol="diamond", size=7, color="white",
                                         line=dict(color="black", width=2))))
    fig.add_trace(go.Scatter(x=EVENT_DATES, y=[EVENT_LEVEL[p["name"]]] * len(EVENT_DATES), mode="markers",
                             xaxis=xa, yaxis=yr,
                             marker=dict(symbol="circle", size=6.5, color="white",
                                         line=dict(color="black", width=1.8))))

    # text labels
    nx, ny = p["name_xy"]
    annotations.append(dict(text=p["name"], x=px(nx), y=py(ny), xref="paper", yref="paper",
                            xanchor="left", yanchor="middle", showarrow=False,
                            font=dict(size=18, family=FONT, color="black")))
    vx, vy = p["va_lab"]
    annotations.append(dict(text="VA", x=px(vx), y=py(vy), xref="paper", yref="paper",
                            xanchor="center", yanchor="middle", showarrow=False,
                            font=dict(size=17, family=FONT, color="black")))
    hx0, hy0 = p["ha_lab"]
    annotations.append(dict(text="HA", x=px(hx0), y=py(hy0), xref="paper", yref="paper",
                            xanchor="center", yanchor="middle", showarrow=False,
                            font=dict(size=17, family=FONT, color="black")))

for ux in (56, 696):
    annotations.append(dict(text="(deg)", x=px(ux), y=py(14), xref="paper", yref="paper",
                            xanchor="center", yanchor="middle", showarrow=False,
                            font=dict(size=15, family=FONT, color="black")))

layout["annotations"] = annotations
fig.update_layout(**layout)
# the browser's default 8px page margin would shift the whole figure; remove it
fig.write_html("out.html", config={"displayModeBar": False, "staticPlot": True},
               post_script="document.body.style.margin='0';")
